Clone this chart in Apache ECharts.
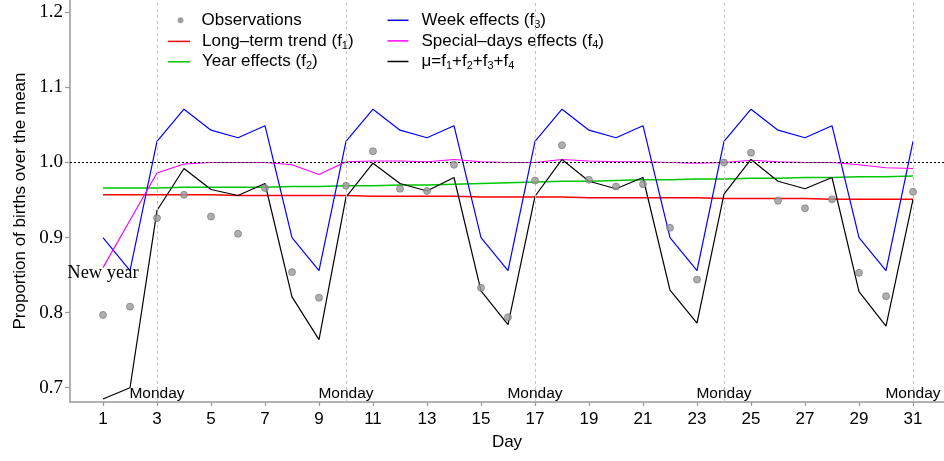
<!DOCTYPE html>
<html>
<head>
<meta charset="utf-8">
<script src="https://cdn.jsdelivr.net/npm/echarts@6/dist/echarts.min.js"></script>
<style>
html,body{margin:0;padding:0;background:#fff;}
#chart{width:944px;height:461px;}
</style>
</head>
<body>
<div id="chart"></div>
<script>
// ---- data ----
var days = [1,2,3,4,5,6,7,8,9,10,11,12,13,14,15,16,17,18,19,20,21,22,23,24,25,26,27,28,29,30,31];
var observations = [0.797,0.808,0.926,0.957,0.928,0.905,0.966,0.854,0.820,0.969,1.015,0.965,0.962,0.997,0.833,0.794,0.976,1.023,0.977,0.968,0.971,0.913,0.844,1.000,1.013,0.949,0.939,0.951,0.853,0.822,0.961];
var trendF1 = [0.957,0.957,0.957,0.957,0.957,0.956,0.956,0.956,0.956,0.956,0.955,0.955,0.955,0.955,0.954,0.954,0.954,0.954,0.953,0.953,0.953,0.953,0.953,0.952,0.952,0.952,0.952,0.951,0.951,0.951,0.951];
var yearF2 = [0.966,0.966,0.966,0.967,0.967,0.967,0.967,0.968,0.968,0.969,0.969,0.970,0.970,0.971,0.972,0.973,0.974,0.975,0.975,0.976,0.977,0.977,0.978,0.978,0.979,0.979,0.980,0.980,0.981,0.981,0.982];
var weekF3 = [0.900,0.856,1.028,1.071,1.043,1.033,1.049,0.900,0.856,1.028,1.071,1.043,1.033,1.049,0.900,0.856,1.028,1.071,1.043,1.033,1.049,0.900,0.856,1.028,1.071,1.043,1.033,1.049,0.900,0.856,1.028];
var specialF4 = [0.860,0.923,0.986,0.998,1.000,1.000,1.000,0.997,0.984,1.001,1.002,1.002,1.001,1.004,1.001,1.000,1.000,1.004,1.002,1.001,1.001,1.000,0.999,1.000,1.003,1.001,1.000,1.000,0.997,0.993,0.992];
var muTotal = [0.685,0.700,0.936,0.992,0.964,0.956,0.972,0.821,0.764,0.954,0.999,0.972,0.962,0.980,0.829,0.784,0.955,1.004,0.975,0.965,0.980,0.830,0.786,0.958,1.004,0.975,0.965,0.980,0.828,0.782,0.951];
var mondays = [3,10,17,24,31];
var mondayLabel = 'Monday';
var mondayLabelY = 0.692;
var newYearLabel = 'New year';
var newYearPos = [1, 0.852];
var xTicks = [1,3,5,7,9,11,13,15,17,19,21,23,25,27,29,31];
var yTicks = [0.7,0.8,0.9,1.0,1.1,1.2];
var refLine = 1.0;

var names = {
  obs: 'Observations',
  f1: 'Long–term trend (f1)',
  f2: 'Year effects (f2)',
  f3: 'Week effects (f3)',
  f4: 'Special–days effects (f4)',
  mu: 'μ=f1+f2+f3+f4'
};

function pairs(vals){ return days.map(function(d,i){ return [d, vals[i]]; }); }

var chart = echarts.init(document.getElementById('chart'), null, {renderer:'canvas'});

var legendText = {
  fontFamily: 'Liberation Sans',
  fontSize: 17,
  color: '#000',
  lineHeight: 20,
  rich: {
    s: {fontFamily:'Liberation Sans', fontSize: 11, lineHeight: 11, verticalAlign: 'bottom', color:'#000'}
  }
};
function legendFmt(n){ return n.replace(/f(\d)/g, 'f{s|$1}'); }
function lineItem(n){ return {name: n, icon: 'rect'}; }

var lineBase = function(name, vals, color, width){
  return {
    name: name, type: 'line', data: pairs(vals), symbol: 'none',
    lineStyle: {color: color, width: width}, itemStyle: {color: color},
    z: 3, silent: true
  };
};

var sF1 = lineBase(names.f1, trendF1, '#ff0000', 1.5);
sF1.markLine = {
  silent: true, symbol: ['none','none'], animation: false,
  label: {show: false},
  data: mondays.map(function(m){
    return {xAxis: m, lineStyle: {color:'#c4c4c4', type:[3,3], width:1}};
  }).concat([{yAxis: refLine, lineStyle: {color:'#000', type:[2,2], width:1}}])
};
var sF2 = lineBase(names.f2, yearF2, '#00c800', 1.5);
var sF3 = lineBase(names.f3, weekF3, '#0000ff', 1.2);
var sF4 = lineBase(names.f4, specialF4, '#ff00ff', 1.2);
sF4.markPoint = {
  silent: true, animation: false, symbol: 'circle', symbolSize: 0,
  data: [{coord: newYearPos, value: newYearLabel}],
  label: {show: true, position: 'inside', formatter: '{c}', fontFamily:'Liberation Serif', fontSize: 18.5, color:'#000'}
};
var sMu = lineBase(names.mu, muTotal, '#000000', 1.2);
sMu.markPoint = {
  silent: true, animation: false, symbol: 'circle', symbolSize: 0,
  data: mondays.map(function(m){ return {coord: [m, mondayLabelY], value: mondayLabel}; }),
  label: {show: true, position: 'inside', formatter: '{c}', fontFamily:'Liberation Sans', fontSize: 15.5, color:'#000'}
};
var sObs = {
  name: names.obs, type: 'scatter', data: pairs(observations),
  symbol: 'circle', symbolSize: 7, z: 5, silent: true,
  itemStyle: {color: '#9a9a9a', borderColor: '#707070', borderWidth: 0.8}
};

var option = {
  animation: false,
  backgroundColor: '#fff',
  grid: {left: 70, right: 0, top: 0, bottom: 59, containLabel: false},
  legend: [
    {
      data: [{name: names.obs, icon: 'circle'}],
      left: 177.5, top: 10.3, padding: 0, orient: 'vertical', itemWidth: 6, itemHeight: 6,
      selectedMode: false, formatter: legendFmt,
      itemStyle: {color: '#888888', borderWidth: 0},
      textStyle: Object.assign({padding:[0,0,0,13]}, legendText)
    },
    {
      data: [names.f1, names.f2].map(lineItem),
      left: 168, top: 31.4, padding: 0, orient: 'vertical', itemWidth: 22, itemHeight: 1.5, itemGap: 0.4,
      symbolKeepAspect: false,
      selectedMode: false, formatter: legendFmt,
      textStyle: Object.assign({padding:[0,0,0,7]}, legendText)
    },
    {
      data: [names.f3, names.f4, names.mu].map(lineItem),
      left: 387.5, top: 10.3, padding: 0, orient: 'vertical', itemWidth: 21, itemHeight: 1.5, itemGap: 0.6,
      symbolKeepAspect: false,
      selectedMode: false, formatter: legendFmt,
      textStyle: Object.assign({padding:[0,0,0,8]}, legendText)
    }
  ],
  xAxis: {
    type: 'value', min: -0.222, max: 32.148,
    name: 'Day', nameLocation: 'middle', nameGap: 32,
    nameTextStyle: {fontFamily:'Liberation Sans', fontSize: 17, color:'#000'},
    axisLine: {show: true, onZero: false, lineStyle: {color:'#9a9a9a', width: 1.5}},
    axisTick: {show: true, length: 4, customValues: xTicks, lineStyle: {color:'#9a9a9a', width: 1.2}},
    axisLabel: {customValues: xTicks, fontFamily:'Liberation Sans', fontSize: 17, color:'#000', margin: 9},
    splitLine: {show: false}
  },
  yAxis: {
    type: 'value', min: 0.681, max: 1.2164,
    name: 'Proportion of births over the mean', nameLocation: 'middle', nameGap: 41,
    nameTextStyle: {fontFamily:'Liberation Sans', fontSize: 17, color:'#000'},
    axisLine: {show: true, onZero: false, lineStyle: {color:'#9a9a9a', width: 1.5}},
    axisTick: {show: true, length: 5, customValues: yTicks, lineStyle: {color:'#9a9a9a', width: 1.2}},
    axisLabel: {customValues: yTicks, fontFamily:'Liberation Serif', fontSize: 19, color:'#000', margin: 7,
      formatter: function(v){ return v.toFixed(1); }},
    splitLine: {show: false}
  },
  series: [sF1, sF2, sF3, sF4, sMu, sObs]
};
chart.setOption(option);
</script>
</body>
</html>
